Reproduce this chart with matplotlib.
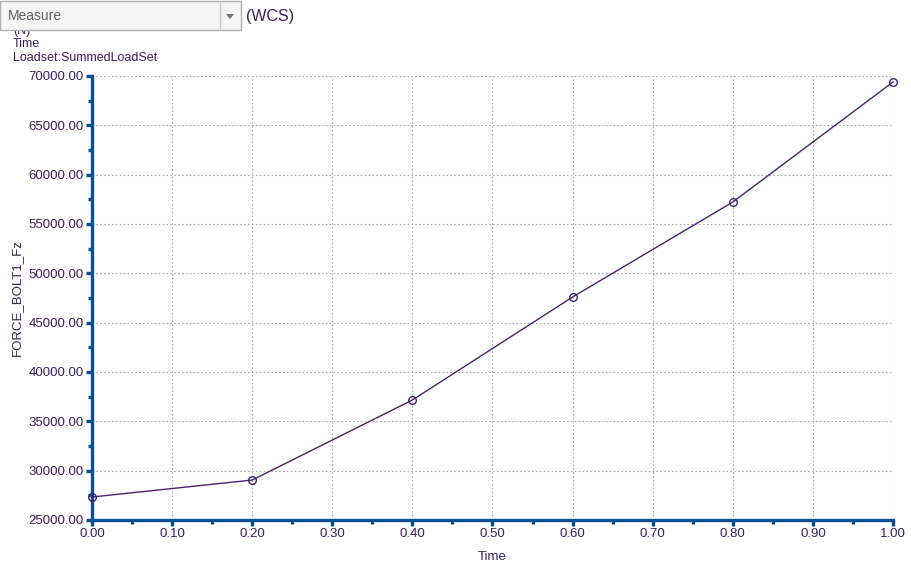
import matplotlib.pyplot as plt
from matplotlib.patches import Rectangle, Polygon
import numpy as np

plt.rcParams['font.family'] = ['Liberation Sans', 'DejaVu Sans']

time = [0.0, 0.2, 0.4, 0.6, 0.8, 1.0]
force_fz = [27330., 29050., 37160., 47600., 57230., 69390.]

text_col = '#3b1f5c'
axis_col = '#0b4f94'
line_col = '#4a2170'

fig = plt.figure(figsize=(9.12, 5.68), dpi=100)
ax = fig.add_axes([92 / 912, 1 - 520 / 568, 801 / 912, 444 / 568])

ax.plot(time, force_fz, color=line_col, lw=1.0, marker='o', ms=5.5,
        mfc='none', mec=line_col, mew=1.0, clip_on=False, zorder=3)

ax.set_xlim(0, 1)
ax.set_ylim(25000, 70000)
ax.set_xticks(np.arange(0, 1.01, 0.1))
ax.set_xticklabels(['%.2f' % v for v in np.arange(0, 1.01, 0.1)])
ax.set_xticks(np.arange(0.05, 1.0, 0.1), minor=True)
ax.set_yticks(np.arange(25000, 70001, 5000))
ax.set_yticklabels(['%.2f' % v for v in np.arange(25000, 70001, 5000)])
ax.set_yticks(np.arange(27500, 70000, 5000), minor=True)

ax.grid(True, which='major', color='#ababab', ls=(0, (1.5, 2)), lw=0.8)
for s in ['top', 'right']:
    ax.spines[s].set_visible(False)
for s in ['left', 'bottom']:
    ax.spines[s].set_color(axis_col)
    ax.spines[s].set_linewidth(2.4)
ax.tick_params(which='major', direction='out', length=4, width=2.4,
               color=axis_col, labelcolor=text_col, labelsize=9.5, pad=2)
ax.tick_params(which='minor', direction='out', length=3, width=2.4, color=axis_col)

ax.set_xlabel('Time', color=text_col, fontsize=9.5, labelpad=8)
ax.set_ylabel('FORCE_BOLT1_Fz', color=text_col, fontsize=9.5, labelpad=4)

# header: combo box and labels
fig.text(13 / 912, 1 - 31 / 568, '(N)', color=text_col, fontsize=9, va='center')
fig.patches.append(Rectangle((0, 1 - 30 / 568), 241 / 912, 29 / 568,
                             transform=fig.transFigure, facecolor='#f5f5f5',
                             edgecolor='#b0b0b0', lw=1, zorder=5))
fig.lines.append(plt.Line2D([220 / 912, 220 / 912], [1 - 30 / 568, 1 - 1 / 568],
                            transform=fig.transFigure, color='#c8c8c8', lw=1, zorder=6))
fig.patches.append(Polygon([[226 / 912, 1 - 14 / 568], [234 / 912, 1 - 14 / 568],
                            [230 / 912, 1 - 19 / 568]], closed=True,
                           transform=fig.transFigure, facecolor='#707070',
                           edgecolor='none', zorder=6))
fig.text(8 / 912, 1 - 16 / 568, 'Measure', color='#606060', fontsize=10,
         va='center', zorder=7)
fig.text(246 / 912, 1 - 17 / 568, '(WCS)', color=text_col, fontsize=11.5, va='center')
fig.text(13 / 912, 1 - 44 / 568, 'Time', color=text_col, fontsize=9, va='center')
fig.text(13 / 912, 1 - 58 / 568, 'Loadset:SummedLoadSet', color=text_col,
         fontsize=9, va='center')

fig.savefig('out.png', dpi=100)
